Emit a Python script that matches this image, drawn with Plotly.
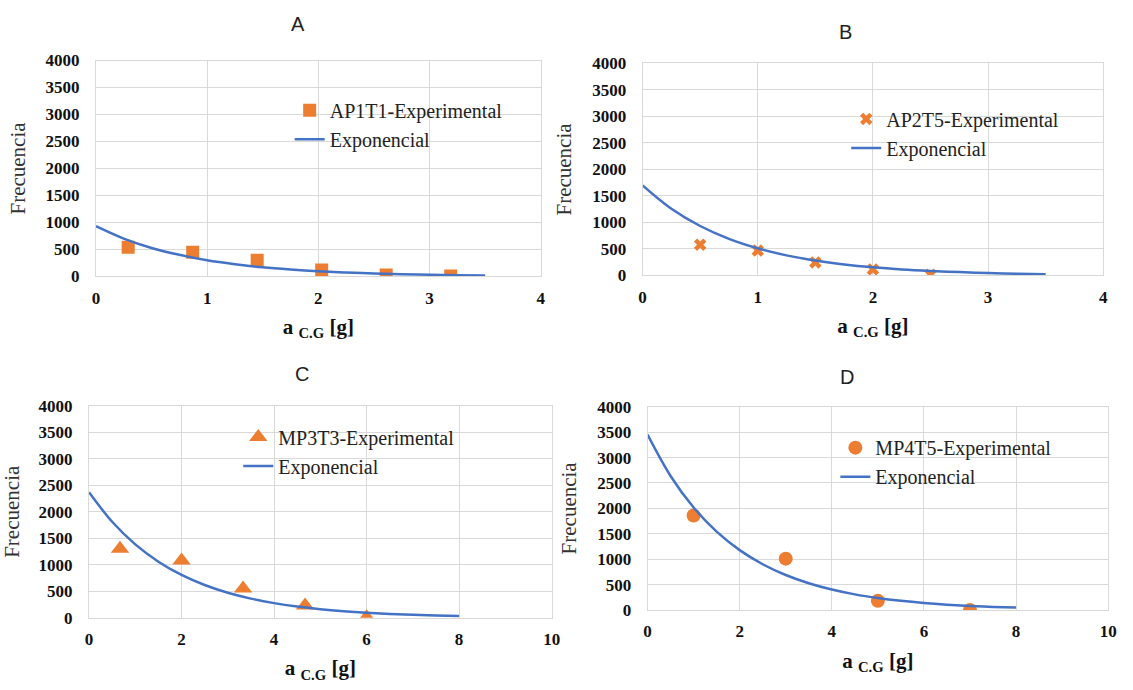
import plotly.graph_objects as go

# ---------------- data ----------------
# Panel A
a_x = [0.29, 0.87, 1.45, 2.03, 2.61, 3.19]
a_y = [540, 450, 300, 120, 25, 10]
a_fit_x = [0, 0.25, 0.5, 0.75, 1, 1.25, 1.5, 1.75, 2, 2.25, 2.5, 2.75, 3, 3.25, 3.5]
a_fit_y = [930, 700, 527, 400, 298, 225, 168, 127, 95, 72, 54, 40, 30, 23, 17]
# Panel B
b_x = [0.5, 1.0, 1.5, 2.0, 2.5]
b_y = [580, 470, 245, 115, 15]
b_fit_x = [0, 0.25, 0.5, 0.75, 1, 1.25, 1.5, 1.75, 2, 2.25, 2.5, 2.75, 3, 3.25, 3.5]
b_fit_y = [1700, 1259, 933, 691, 512, 379, 281, 208, 154, 114, 85, 63, 46, 34, 25]
# Panel C
c_x = [0.67, 2.0, 3.33, 4.67, 6.0]
c_y = [1300, 1080, 550, 230, 10]
c_fit_x = [0, 0.5, 1, 1.5, 2, 2.5, 3, 3.5, 4, 4.5, 5, 5.5, 6, 6.5, 7, 7.5, 8]
c_fit_y = [2370, 1811, 1384, 1058, 808, 618, 472, 361, 276, 211, 161, 123, 94, 72, 55, 42, 32]
# Panel D
d_x = [1, 3, 5, 7]
d_y = [1860, 1010, 180, 0]
d_fit_x = [0, 0.5, 1, 1.5, 2, 2.5, 3, 3.5, 4, 4.5, 5, 5.5, 6, 6.5, 7, 7.5, 8]
d_fit_y = [3450, 2637, 2016, 1541, 1178, 900, 688, 526, 402, 307, 235, 180, 137, 105, 80, 61, 47]

names_exp = ["AP1T1-Experimental", "AP2T5-Experimental", "MP3T3-Experimental", "MP4T5-Experimental"]
fit_name = "Exponencial"
panel_titles = ["A", "B", "C", "D"]
x_title = "<b>a <sub>C.G</sub> [g]</b>"
y_title = "Frecuencia"
y_ticks = [0, 500, 1000, 1500, 2000, 2500, 3000, 3500, 4000]
x_ticks_small = [0, 1, 2, 3, 4]
x_ticks_large = [0, 2, 4, 6, 8, 10]

W, H = 1133, 690
ORANGE = "#ED7D31"
BLUE = "#4472C4"
GRID = "#D9D9D9"
SERIF = "Liberation Serif"

# pixel boxes (left, right, top, bottom)
boxes = [(93, 543, 53, 275), (646, 1112, 56, 274), (86, 554, 408, 626), (651, 1117, 409, 618)]
xranges = [[0, 4], [0, 4], [0, 10], [0, 10]]
xticks = [x_ticks_small, x_ticks_small, x_ticks_large, x_ticks_large]
symbols = ["square", "x", "triangle-up", "circle"]
msizes = [13, 11, 16, 14]
legend_pos = [(289, 84), (852, 93), (237, 420), (841, 431)]
title_pos = [(297, 15), (851, 24), (301, 375), (853, 378)]


def bold(vals):
    return [f"<b>{v}</b>" for v in vals]


fig = go.Figure()
series = [(a_x, a_y, a_fit_x, a_fit_y), (b_x, b_y, b_fit_x, b_fit_y),
          (c_x, c_y, c_fit_x, c_fit_y), (d_x, d_y, d_fit_x, d_fit_y)]

layout = dict(width=W, height=H, margin=dict(l=0, r=0, t=0, b=0),
              paper_bgcolor="white", plot_bgcolor="white", showlegend=True,
              annotations=[])

for i, (sx, sy, fx, fy) in enumerate(series):
    k = "" if i == 0 else str(i + 1)
    leg = "legend" if i == 0 else f"legend{i + 1}"
    fig.add_trace(go.Scatter(x=sx, y=sy, mode="markers", name=names_exp[i],
                             marker=dict(symbol=symbols[i], size=msizes[i], color=ORANGE,
                                         line=dict(width=0)),
                             xaxis="x" + k, yaxis="y" + k, legend=leg))
    fig.add_trace(go.Scatter(x=fx, y=fy, mode="lines", name=fit_name,
                             line=dict(color=BLUE, width=2.5, shape="spline"),
                             xaxis="x" + k, yaxis="y" + k, legend=leg))
    l, r, t, b = boxes[i]
    layout["xaxis" + k] = dict(domain=[l / W, r / W], anchor="y" + k, range=xranges[i],
                               tickmode="array", tickvals=xticks[i], ticktext=bold(xticks[i]),
                               showgrid=True, gridcolor=GRID, gridwidth=1,
                               showline=True, linecolor=GRID, mirror=True, zeroline=False,
                               ticks="", ticklabelstandoff=6,
                               tickfont=dict(family=SERIF, size=17, color="#111"),
                               title=dict(text=x_title, standoff=12,
                                          font=dict(family=SERIF, size=21, color="#111")))
    layout["yaxis" + k] = dict(domain=[1 - b / H, 1 - t / H], anchor="x" + k, range=[0, 4000],
                               tickmode="array", tickvals=y_ticks, ticktext=bold(y_ticks),
                               showgrid=True, gridcolor=GRID, gridwidth=1,
                               showline=True, linecolor=GRID, mirror=True, zeroline=False,
                               ticks="", ticklabelstandoff=12,
                               tickfont=dict(family=SERIF, size=17, color="#111"),
                               title=dict(text=y_title, standoff=14,
                                          font=dict(family=SERIF, size=21, color="#333")))
    lx, ly = legend_pos[i]
    layout[leg] = dict(x=lx / W, y=1 - ly / H, xanchor="left", yanchor="top",
                       xref="paper", yref="paper", bgcolor="rgba(0,0,0,0)",
                       font=dict(family=SERIF, size=20, color="#222"), traceorder="normal")
    tx, ty = title_pos[i]
    layout["annotations"].append(dict(text=panel_titles[i], x=tx / W, y=1 - ty / H,
                                      xref="paper", yref="paper", showarrow=False,
                                      xanchor="center", yanchor="middle",
                                      font=dict(family="Liberation Sans", size=20, color="#222")))

fig.update_layout(**layout)
fig.write_html("out.html", config={"displayModeBar": False},
               post_script="document.body.style.margin='0px';document.body.style.overflow='hidden';")
